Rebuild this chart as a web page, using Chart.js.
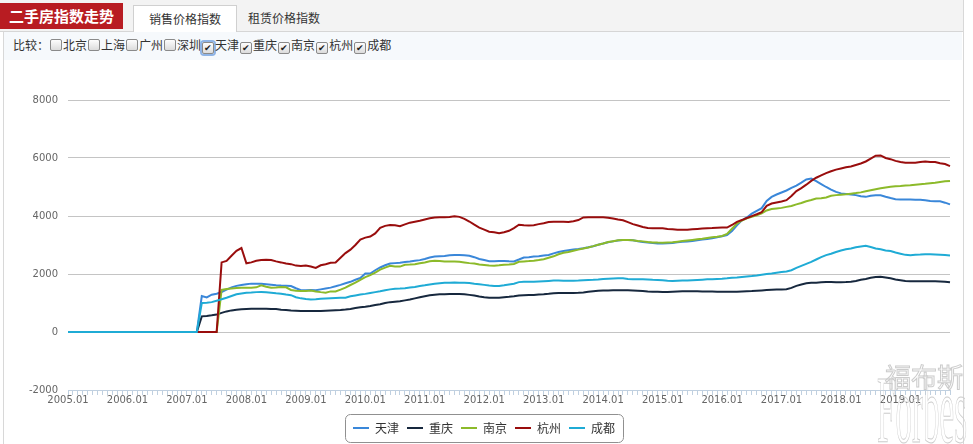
<!DOCTYPE html>
<html>
<head>
<meta charset="utf-8">
<script src="https://cdn.jsdelivr.net/npm/chart.js@4"></script>
<style>
    body { margin: 0; width: 973px; height: 444px; overflow: hidden; background: #fff; font-family: "Noto Sans CJK SC", sans-serif; position: relative; }
    .frame { position: absolute; left: 3px; top: 0; width: 959px; height: 444px; border-left: 1px solid #d8d8d8; border-right: 1px solid #d8d8d8; }
    .topbar { position: absolute; left: 0; top: 0; width: 963px; height: 31px; background: #f3f3f3; border-bottom: 1px solid #d6d6d6; }
    .title { position: absolute; left: 0; top: 3px; width: 123px; height: 26px; background: #b81c22; color: #fff; font-size: 15px; font-weight: bold; line-height: 26px; text-align: center; }
    .tab { position: absolute; top: 5px; height: 26px; width: 102px; font-size: 12px; line-height: 26px; text-align: center; color: #333; }
    .tab.active { left: 133px; background: #fff; border: 1px solid #d0d0d0; border-bottom: none; height: 27px; }
    .tab.other { left: 233px; }
    .compare { position: absolute; left: 4px; top: 32px; width: 958px; height: 28px; background: #f6f9fc; font-size: 12px; color: #333; line-height: 26px; padding-left: 9px; box-sizing: border-box; }
    .cb { display: inline-block; width: 10px; height: 10px; border: 1px solid #8a8a8a; border-radius: 2px; background: linear-gradient(#fdfdfd, #dcdcdc); vertical-align: -1px; font-size: 9px; line-height: 10px; text-align: center; color: #222; margin: 0 1px 0 1px; }
    .cb.focus { box-shadow: 0 0 0 2px #8fb4e6; }
    #chartBox { position: absolute; left: 4px; top: 60px; width: 959px; height: 384px; }
    .mark { position: absolute; color: transparent; -webkit-text-stroke: 1px #cccccc; pointer-events: none; white-space: nowrap; }
</style>
</head>
<body>
<div class="frame"></div>
<div class="topbar">
    <div class="title">二手房指数走势</div>
    <div class="tab active">销售价格指数</div>
    <div class="tab other">租赁价格指数</div>
</div>
<div class="compare">比较：<span class="cb"></span>北京<span class="cb"></span>上海<span class="cb"></span>广州<span class="cb"></span>深圳<span class="cb focus">✔</span>天津<span class="cb">✔</span>重庆<span class="cb">✔</span>南京<span class="cb">✔</span>杭州<span class="cb">✔</span>成都</div>
<div id="chartBox"><canvas id="indexChart"></canvas></div>
<div class="mark" style="left:885px; top:357px; font-size:26px; font-family:'Noto Sans CJK SC';">福布斯</div>
<div class="mark" style="left:877px; top:362px; font-size:96px; line-height:96px; font-family:'Liberation Serif', serif; transform:scaleX(0.345); transform-origin:left top;">Forbes</div>

<script>
// Monthly index, 2005.01 - 2019.11
const months = [];
for (let y = 2005; y <= 2019; y++) {
    for (let m = 1; m <= 12; m++) {
        if (y === 2019 && m > 11) break;
        months.push(y + '.' + String(m).padStart(2, '0'));
    }
}

const cities = ['天津', '重庆', '南京', '杭州', '成都'];
const cityColors = ['#3a87d9', '#17283e', '#8cba2a', '#990d0d', '#1fabd5'];

const yTicks = [-2000, 0, 2000, 4000, 6000, 8000];

const zeros27 = [0,0,0,0,0,0,0,0,0,0,0,0,0,0,0,0,0,0,0,0,0,0,0,0,0,0,0];
const zeros31 = [0,0,0,0,0,0,0,0,0,0,0,0,0,0,0,0,0,0,0,0,0,0,0,0,0,0,0,0,0,0,0];

const tianjin = zeros27.concat([
    1240, 1190, 1285, 1320, 1380, 1460, 1540, 1590, 1620, 1650, 1668, 1668, 1660, 1648, 1630, 1612, 1600, 1592, 1585, 1510, 1440, 1438, 1445,
    1440, 1470, 1500, 1530, 1575, 1625, 1680, 1730, 1800, 1860, 2015, 2015, 2130, 2225, 2300, 2360, 2375, 2385, 2410, 2430, 2455, 2478, 2520, 2570, 2600,
    2610, 2620, 2650, 2655, 2655, 2650, 2630, 2580, 2520, 2480, 2440, 2440, 2450, 2450, 2440, 2435, 2500, 2570, 2580, 2600, 2615, 2640, 2655, 2710, 2760,
    2795, 2820, 2845, 2865, 2890, 2920, 2960, 3010, 3050, 3095, 3125, 3155, 3170, 3170, 3160, 3130, 3105, 3085, 3065, 3055, 3055, 3060, 3070, 3095, 3110,
    3120, 3140, 3165, 3190, 3210, 3235, 3265, 3300, 3345, 3480, 3680, 3850, 3950, 4080, 4180, 4270, 4520, 4660, 4740, 4810, 4880, 4970, 5050, 5150, 5260, 5290,
    5200, 5100, 5000, 4910, 4830, 4780, 4760, 4740, 4720, 4680, 4660, 4700, 4715, 4715, 4665, 4620, 4580, 4570, 4565, 4565, 4563, 4563, 4545, 4520, 4510, 4505, 4460, 4400
]);

const chongqing = zeros27.concat([
    540, 555, 575, 600, 660, 710, 745, 770, 785, 795, 800, 800, 800, 800, 795, 790, 770, 760, 740, 730, 720, 720, 725,
    722, 728, 735, 741, 750, 760, 775, 795, 825, 850, 870, 895, 930, 960, 1000, 1030, 1045, 1060, 1090, 1120, 1160, 1200, 1235, 1265, 1285,
    1300, 1305, 1310, 1310, 1308, 1300, 1280, 1255, 1225, 1200, 1185, 1182, 1185, 1200, 1215, 1235, 1260, 1265, 1272, 1280, 1290, 1300, 1315, 1335, 1345,
    1345, 1345, 1348, 1352, 1365, 1385, 1405, 1420, 1428, 1435, 1436, 1437, 1437, 1436, 1432, 1425, 1415, 1400, 1390, 1385, 1380, 1380, 1390, 1400, 1405,
    1408, 1405, 1402, 1400, 1397, 1393, 1390, 1390, 1390, 1390, 1392, 1400, 1405, 1413, 1425, 1435, 1445, 1455, 1462, 1468, 1472, 1520, 1590, 1640, 1680, 1695,
    1700, 1712, 1722, 1720, 1715, 1714, 1720, 1735, 1760, 1800, 1830, 1870, 1900, 1905, 1880, 1850, 1810, 1785, 1760, 1752, 1749, 1749, 1749, 1749, 1748, 1745, 1735, 1715
]);

const nanjing = zeros31.concat([
    1450, 1480, 1500, 1520, 1530, 1530, 1530, 1540, 1610, 1560, 1530, 1535, 1550, 1540, 1450, 1420, 1415, 1410, 1430,
    1400, 1375, 1355, 1400, 1395, 1460, 1530, 1620, 1700, 1800, 1890, 1960, 2050, 2150, 2220, 2280, 2260, 2255, 2315, 2325, 2340, 2370, 2400, 2440, 2455,
    2445, 2435, 2432, 2430, 2420, 2400, 2375, 2360, 2330, 2310, 2290, 2285, 2300, 2320, 2330, 2345, 2420, 2435, 2445, 2460, 2480, 2510, 2560, 2610, 2680,
    2730, 2760, 2800, 2840, 2880, 2915, 2960, 3010, 3050, 3100, 3130, 3160, 3173, 3175, 3165, 3140, 3125, 3105, 3090, 3082, 3080, 3088, 3095, 3115, 3135,
    3155, 3175, 3195, 3215, 3240, 3265, 3285, 3310, 3380, 3560, 3740, 3845, 3920, 3975, 4020, 4095, 4190, 4240, 4260, 4280, 4315, 4345, 4400, 4450, 4510, 4550,
    4600, 4615, 4640, 4700, 4720, 4735, 4750, 4770, 4790, 4815, 4850, 4885, 4920, 4955, 4985, 5010, 5025, 5035, 5050, 5062, 5080, 5095, 5110, 5130, 5150, 5175, 5195, 5210
]);

const hangzhou = zeros31.concat([
    2400, 2450, 2630, 2800, 2895, 2370, 2400, 2455, 2480, 2490, 2480, 2435, 2400, 2360, 2340, 2290, 2280, 2290, 2260,
    2210, 2300, 2335, 2390, 2400, 2560, 2720, 2840, 3000, 3190, 3255, 3290, 3400, 3590, 3660, 3690, 3680, 3650, 3710, 3770, 3805, 3835, 3880, 3920, 3950,
    3960, 3960, 3965, 3990, 3970, 3900, 3810, 3700, 3600, 3530, 3460, 3440, 3410, 3440, 3490, 3580, 3700, 3680, 3670, 3680, 3720, 3750, 3790, 3805, 3800,
    3800, 3790, 3820, 3860, 3950, 3960, 3960, 3955, 3958, 3940, 3915, 3880, 3855, 3790, 3720, 3670, 3620, 3590, 3580, 3578, 3575, 3555, 3545, 3525, 3525,
    3525, 3540, 3555, 3570, 3580, 3585, 3595, 3600, 3600, 3690, 3800, 3860, 3930, 3995, 4060, 4130, 4350, 4430, 4465, 4500, 4545, 4690, 4860, 4960, 5080, 5210,
    5320, 5400, 5480, 5545, 5600, 5640, 5680, 5710, 5760, 5810, 5880, 5980, 6080, 6090, 6000, 5960, 5900, 5860, 5840, 5835, 5835, 5860, 5880, 5860, 5860, 5820, 5790, 5720
]);

const chengdu = zeros27.concat([
    1000, 1010, 1030, 1080, 1130, 1180, 1240, 1300, 1330, 1350, 1360, 1375, 1380, 1370, 1355, 1335, 1320, 1290, 1270, 1200, 1160, 1140, 1125,
    1130, 1145, 1158, 1165, 1170, 1178, 1185, 1230, 1262, 1290, 1315, 1345, 1375, 1405, 1440, 1470, 1495, 1500, 1510, 1535, 1555, 1585, 1610, 1640, 1665,
    1685, 1695, 1702, 1705, 1700, 1695, 1690, 1665, 1645, 1625, 1605, 1590, 1585, 1610, 1640, 1665, 1720, 1735, 1730, 1730, 1740, 1750, 1760, 1772, 1780,
    1770, 1768, 1770, 1775, 1785, 1795, 1800, 1810, 1825, 1840, 1845, 1850, 1850, 1830, 1820, 1818, 1815, 1810, 1800, 1795, 1785, 1770, 1760, 1765, 1772,
    1780, 1788, 1795, 1805, 1815, 1822, 1828, 1835, 1850, 1870, 1880, 1900, 1915, 1930, 1950, 1975, 2000, 2020, 2045, 2070, 2085, 2130, 2210, 2280, 2350, 2420,
    2500, 2580, 2650, 2700, 2760, 2810, 2850, 2880, 2920, 2950, 2975, 2930, 2880, 2850, 2810, 2790, 2740, 2700, 2660, 2650, 2660, 2670, 2685, 2680, 2675, 2665, 2655, 2640
]);

const cityValues = [tianjin, chongqing, nanjing, hangzhou, chengdu];

// Rounded frame around the legend items
const legendFrame = {
    id: 'legendFrame',
    afterDraw(chart) {
        const boxes = chart.legend.legendHitBoxes;
        if (!boxes || !boxes.length) return;
        const left = Math.min(...boxes.map(b => b.left)) - 8;
        const right = Math.max(...boxes.map(b => b.left + b.width)) + 8;
        const top = Math.min(...boxes.map(b => b.top)) - 8;
        const bottom = Math.max(...boxes.map(b => b.top + b.height)) + 8;
        const ctx = chart.ctx;
        ctx.save();
        ctx.strokeStyle = '#909090';
        ctx.lineWidth = 1;
        ctx.beginPath();
        ctx.roundRect(Math.round(left) + 0.5, Math.round(top) + 0.5, Math.round(right - left), Math.round(bottom - top), 5);
        ctx.stroke();
        ctx.restore();
    }
};

// Initialize chart
function initChart() {
    const ctx = document.getElementById('indexChart').getContext('2d');
    new Chart(ctx, {
        type: 'line',
        data: {
            labels: months,
            datasets: cities.map((name, i) => ({
                label: name,
                data: cityValues[i],
                borderColor: cityColors[i],
                backgroundColor: cityColors[i],
                borderWidth: 2,
                pointRadius: 0,
                tension: 0,
                fill: false,
                order: cities.length - i   // later cities drawn on top
            }))
        },
        options: {
            responsive: true,
            maintainAspectRatio: false,
            animation: false,
            layout: { padding: { top: 40, right: 13, left: 14, bottom: 0 } },
            scales: {
                x: {
                    type: 'category',
                    offset: false,
                    afterFit: function(scale) {
                        scale.height = 24;
                    },
                    grid: { drawOnChartArea: false, drawTicks: true, tickLength: 5, color: '#c0d0e0' },
                    border: { display: true, color: '#c0d0e0' },
                    ticks: {
                        autoSkip: false,
                        maxRotation: 0,
                        minRotation: 0,
                        padding: -1,
                        color: '#666',
                        font: { family: 'DejaVu Sans', size: 10 },
                        callback: function(value, index) {
                            return index % 12 === 0 ? months[index] : '';
                        }
                    }
                },
                y: {
                    min: yTicks[0],
                    max: yTicks[yTicks.length - 1],
                    afterBuildTicks: function(scale) {
                        scale.ticks = yTicks.map(v => ({ value: v }));
                    },
                    afterFit: function(scale) {
                        scale.width = 50;
                    },
                    grid: { color: '#c4c4c4', drawTicks: false },
                    border: { display: false },
                    ticks: {
                        padding: 10,
                        color: '#666',
                        font: { family: 'DejaVu Sans', size: 10 },
                        callback: function(value) {
                            return String(value);
                        }
                    }
                }
            },
            plugins: {
                legend: {
                    position: 'bottom',
                    labels: {
                        usePointStyle: true,
                        pointStyle: 'line',
                        pointStyleWidth: 16,
                        padding: 8,
                        color: '#333',
                        font: { family: 'Noto Sans CJK SC', size: 12 },
                        sort: (a, b) => a.datasetIndex - b.datasetIndex
                    }
                },
                tooltip: { enabled: false }
            }
        },
        plugins: [legendFrame]
    });
}

document.addEventListener('DOMContentLoaded', initChart);
</script>
</body>
</html>
